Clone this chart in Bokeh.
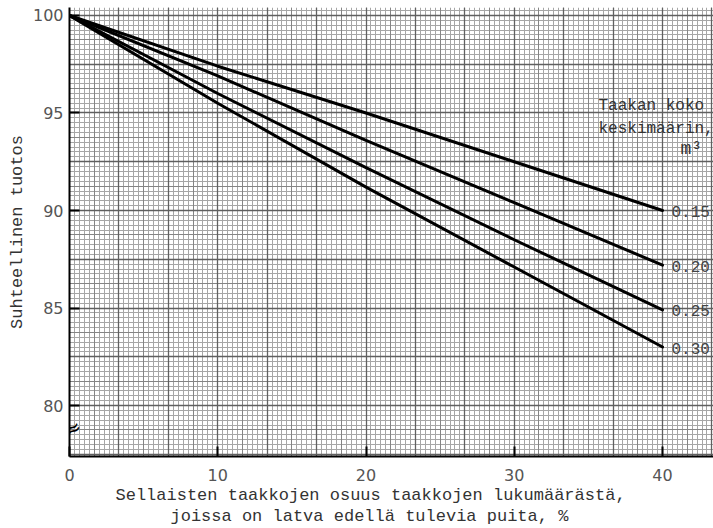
import numpy as np
from bokeh.plotting import figure
from bokeh.models import Range1d, FixedTicker, Grid, Label, ColumnDataSource, Title
from bokeh.core.properties import value
from bokeh.embed import file_html
from bokeh.resources import INLINE

# ---- data ----
x_pct = [0, 10, 20, 30, 40]
y_015 = [100, 97.4, 95.0, 92.5, 90.0]
y_020 = [100, 96.9, 93.6, 90.4, 87.2]
y_025 = [100, 96.0, 92.2, 88.5, 84.9]
y_030 = [100, 95.5, 91.2, 87.1, 83.0]
series_names = ["0.15", "0.20", "0.25", "0.30"]
x_ticks = [0, 10, 20, 30, 40]
y_ticks = [80, 85, 90, 95, 100]
x_title_1 = "Sellaisten taakkojen osuus taakkojen lukumäärästä,"
x_title_2 = "joissa on latva edellä tulevia puita, %"
y_title = "Suhteellinen tuotos"
legend_title = ["Taakan koko", "keskimäärin,", "m³"]

MONO = "Liberation Mono"
SANS = "DejaVu Sans"

p = figure(width=713, height=528,
           x_range=Range1d(0, 43.44), y_range=Range1d(77.385, 100.41),
           output_backend="svg", toolbar_location=None,
           min_border_left=69, min_border_right=0,
           min_border_top=7, min_border_bottom=72)
p.outline_line_color = None
p.background_fill_color = "white"
p.border_fill_color = "white"

# graph-paper grid
p.xgrid.visible = False
p.ygrid.visible = False
xf = [v for v in np.arange(0, 43.6, 1/3)]
xm = [v for v in np.arange(0, 43.6, 5/3)]
xd = [v for v in np.arange(0, 43.6, 10/3)]
yf = [v for v in np.arange(77.5, 100.5, 0.25)]
ym = [v for v in np.arange(77.5, 100.5, 1.25)]
yd = [v for v in np.arange(77.5, 100.5, 2.5)]
for ticks, dim, col, w in [(xf, 0, "#a6a6a6", 1), (yf, 1, "#a6a6a6", 1),
                           (xm, 0, "#858585", 1), (ym, 1, "#858585", 1),
                           (xd, 0, "#606060", 1.3), (yd, 1, "#606060", 1.3)]:
    g = Grid(dimension=dim, ticker=FixedTicker(ticks=ticks),
             grid_line_color=col, grid_line_width=w)
    p.add_layout(g)

# top edge line of the paper
p.add_layout(Grid(dimension=1, ticker=FixedTicker(ticks=[100.41]),
                  grid_line_color="#555555", grid_line_width=1.5))

# lines
for ys in [y_015, y_020, y_025, y_030]:
    p.line(x_pct, ys, line_color="black", line_width=3, line_cap="round")

# end labels
ends = ColumnDataSource(dict(x=[x_pct[-1]] * 4,
                             y=[y_015[-1], y_020[-1], y_025[-1], y_030[-1]],
                             t=series_names))
p.text(x="x", y="y", text="t", source=ends, x_offset=9, y_offset=1,
       text_baseline="middle", text_align="left",
       text_font=value(MONO), text_font_size="16px", text_color="#444444")

# legend title
p.add_layout(Label(x=529, y=351, x_units="screen", y_units="screen",
                   text=legend_title[0], text_font=MONO, text_font_size="16px",
                   text_color="#333333", text_baseline="middle"))
p.add_layout(Label(x=529, y=328, x_units="screen", y_units="screen",
                   text=legend_title[1], text_font=MONO, text_font_size="16px",
                   text_color="#333333", text_baseline="middle"))
p.add_layout(Label(x=611, y=308, x_units="screen", y_units="screen",
                   text=legend_title[2], text_font=MONO, text_font_size="18px",
                   text_color="#333333", text_baseline="middle"))

# axes
for ax in (p.xaxis[0], p.yaxis[0]):
    ax.axis_line_color = "black"
    ax.axis_line_width = 2
    ax.major_tick_line_color = "black"
    ax.major_tick_line_width = 2
    ax.major_tick_in = 10
    ax.major_tick_out = 0
    ax.minor_tick_line_color = None
    ax.major_label_text_font = SANS
    ax.major_label_text_font_size = "16px"
    ax.major_label_text_color = "#555555"

p.xaxis.ticker = FixedTicker(ticks=x_ticks)
p.yaxis.ticker = FixedTicker(ticks=y_ticks)
p.xaxis.major_label_standoff = 12
p.yaxis.major_label_standoff = 6

p.yaxis.axis_label = y_title
p.yaxis.axis_label_text_font = MONO
p.yaxis.axis_label_text_font_size = "17px"
p.yaxis.axis_label_text_font_style = "normal"
p.yaxis.axis_label_text_color = "#333333"
p.yaxis.axis_label_standoff = 3

# x axis title (two lines, as titles below the axis)
for txt, off in ((x_title_1, 46), (x_title_2, 101)):
    t = Title(text=txt, align="left", offset=off, standoff=0,
              text_font=MONO, text_font_size="17px",
              text_font_style="normal", text_color="#333333")
    p.add_layout(t, "below")

# axis break mark
p.add_layout(Label(x=3, y=28, x_units="screen", y_units="screen",
                   text="≈", text_font=SANS, text_font_size="20px",
                   text_color="black", text_align="center",
                   text_baseline="middle", angle=0.5))

open("out.html", "w").write(file_html(p, INLINE))
